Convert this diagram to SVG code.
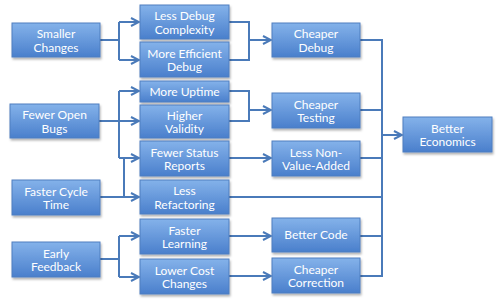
<svg xmlns="http://www.w3.org/2000/svg" width="500" height="300" viewBox="0 0 500 300">
<style>
.box rect{fill:url(#g);stroke:#4f7fc0;stroke-width:1;filter:url(#sh)}
.box text{fill:#fff;font-family:Lato,"Open Sans","Liberation Sans",sans-serif;font-size:12px;text-anchor:middle}
.conn path{fill:none;stroke:#4a7ab9;stroke-width:2}
.conn path.a{marker-end:url(#ar)}
</style>
<defs>
<linearGradient id="g" x1="0" y1="0" x2="0" y2="1">
<stop offset="0" stop-color="#84b2ea"/>
<stop offset="1" stop-color="#4a7fcc"/>
</linearGradient>
<filter id="sh" x="-10%" y="-10%" width="125%" height="140%">
<feDropShadow dx="1" dy="2" stdDeviation="1.2" flood-color="#000" flood-opacity="0.3"/>
</filter>
<marker id="ar" viewBox="0 0 10 10" refX="9" refY="5" markerWidth="5" markerHeight="5" orient="auto" markerUnits="strokeWidth">
<path d="M1,1 L9,5 L1,9" fill="none" stroke="#4a7ab9" stroke-width="2"/>
</marker>
</defs>
<rect width="500" height="300" fill="#fff"/>
<g class="conn">
<path d="M100,40 H119 M119,22 V60"/>
<path class="a" d="M119,22 H139"/>
<path class="a" d="M119,60 H139"/>
<path d="M229,22 H249 V60 H229 M249,40 H259"/>
<path class="a" d="M249,40 H271"/>
<path d="M99,121 H119 M119,91 V158"/>
<path class="a" d="M119,91 H139"/>
<path class="a" d="M119,121 H139"/>
<path class="a" d="M119,158 H139"/>
<path d="M100,197 H124 M124,158 V197"/>
<path class="a" d="M124,197 H139"/>
<path d="M229,91 H249 V121 H229"/>
<path class="a" d="M249,110 H271"/>
<path class="a" d="M229,158 H271"/>
<path d="M229,197 H382"/>
<path d="M100,259 H119 M119,236 V277"/>
<path class="a" d="M119,236 H139"/>
<path class="a" d="M119,277 H139"/>
<path class="a" d="M229,236 H271"/>
<path class="a" d="M229,276 H271"/>
<path d="M360,40 H382 V276 H360 M360,110 H382 M360,158 H382 M360,236 H382"/>
<path class="a" d="M382,135 H402"/>
</g>
<g id="smaller-changes" class="box"><rect x="12" y="23" width="88" height="34"/><text x="56" y="38">Smaller</text><text x="56" y="51.5">Changes</text></g>
<g id="fewer-open-bugs" class="box"><rect x="10" y="104" width="89" height="34"/><text x="54.5" y="119">Fewer Open</text><text x="54.5" y="132.5">Bugs</text></g>
<g id="faster-cycle-time" class="box"><rect x="12" y="180" width="88" height="35"/><text x="56" y="195.5">Faster Cycle</text><text x="56" y="209">Time</text></g>
<g id="early-feedback" class="box"><rect x="12" y="242" width="88" height="35"/><text x="56" y="257.5">Early</text><text x="56" y="271">Feedback</text></g>
<g id="less-debug-complexity" class="box"><rect x="140" y="5" width="89" height="34"/><text x="184.5" y="20">Less Debug</text><text x="184.5" y="33.5">Complexity</text></g>
<g id="more-efficient-debug" class="box"><rect x="140" y="42" width="89" height="35"/><text x="184.5" y="57.5">More Efficient</text><text x="184.5" y="71">Debug</text></g>
<g id="more-uptime" class="box"><rect x="140" y="81" width="89" height="21"/><text x="184.5" y="95.5">More Uptime</text></g>
<g id="higher-validity" class="box"><rect x="140" y="105" width="89" height="33"/><text x="184.5" y="119.5">Higher</text><text x="184.5" y="133">Validity</text></g>
<g id="fewer-status-reports" class="box"><rect x="140" y="141" width="89" height="35"/><text x="184.5" y="156.5">Fewer Status</text><text x="184.5" y="170">Reports</text></g>
<g id="less-refactoring" class="box"><rect x="140" y="180" width="89" height="34"/><text x="184.5" y="195">Less</text><text x="184.5" y="208.5">Refactoring</text></g>
<g id="faster-learning" class="box"><rect x="140" y="219" width="89" height="35"/><text x="184.5" y="234.5">Faster</text><text x="184.5" y="248">Learning</text></g>
<g id="lower-cost-changes" class="box"><rect x="140" y="259" width="89" height="35"/><text x="184.5" y="274.5">Lower Cost</text><text x="184.5" y="288">Changes</text></g>
<g id="cheaper-debug" class="box"><rect x="272" y="23" width="88" height="34"/><text x="316" y="38">Cheaper</text><text x="316" y="51.5">Debug</text></g>
<g id="cheaper-testing" class="box"><rect x="272" y="93" width="88" height="35"/><text x="316" y="108.5">Cheaper</text><text x="316" y="122">Testing</text></g>
<g id="less-non-value-added" class="box"><rect x="272" y="141" width="88" height="35"/><text x="316" y="156.5">Less Non-</text><text x="316" y="170">Value-Added</text></g>
<g id="better-code" class="box"><rect x="272" y="218" width="88" height="34"/><text x="316" y="239">Better Code</text></g>
<g id="cheaper-correction" class="box"><rect x="272" y="258" width="88" height="35"/><text x="316" y="273.5">Cheaper</text><text x="316" y="287">Correction</text></g>
<g id="better-economics" class="box"><rect x="403" y="117" width="89" height="35"/><text x="447.5" y="132.5">Better</text><text x="447.5" y="146">Economics</text></g>
</svg>
